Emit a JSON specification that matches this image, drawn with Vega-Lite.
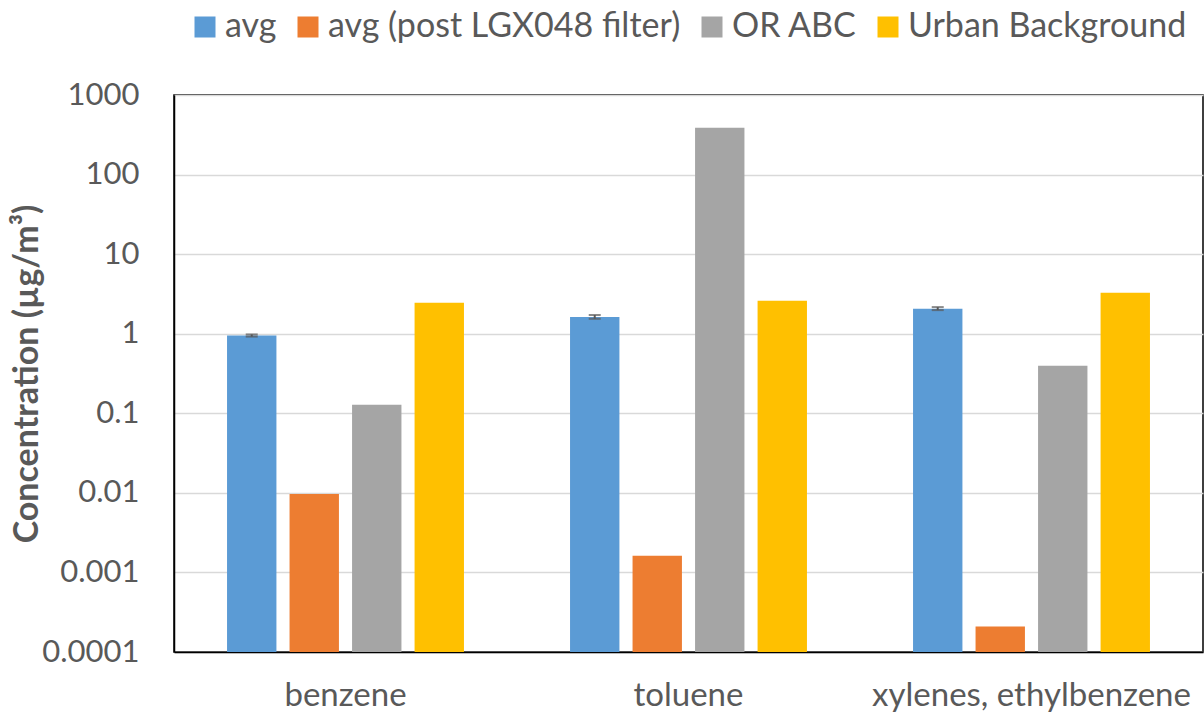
{
  "$schema": "https://vega.github.io/schema/vega-lite/v6.json",
  "width": 1029,
  "height": 557,
  "autosize": {"type": "none"},
  "padding": {"left": 174, "top": 95, "right": 1, "bottom": 69},
  "background": "white",
  "config": {
    "font": "Lato",
    "view": {"stroke": "black", "strokeWidth": 1.5},
    "axis": {"labelColor": "#595959", "titleColor": "#595959"}
  },
  "data": {
    "values": [
      {"compound": "benzene", "series": "avg", "value": 0.95, "lo": 0.92, "hi": 0.98},
      {"compound": "benzene", "series": "avg (post LGX048 filter)", "value": 0.0097},
      {"compound": "benzene", "series": "OR ABC", "value": 0.128},
      {"compound": "benzene", "series": "Urban Background", "value": 2.45},
      {"compound": "toluene", "series": "avg", "value": 1.62, "lo": 1.54, "hi": 1.72},
      {"compound": "toluene", "series": "avg (post LGX048 filter)", "value": 0.00162},
      {"compound": "toluene", "series": "OR ABC", "value": 387},
      {"compound": "toluene", "series": "Urban Background", "value": 2.6},
      {"compound": "xylenes, ethylbenzene", "series": "avg", "value": 2.06, "lo": 1.98, "hi": 2.16},
      {"compound": "xylenes, ethylbenzene", "series": "avg (post LGX048 filter)", "value": 0.000209},
      {"compound": "xylenes, ethylbenzene", "series": "OR ABC", "value": 0.396},
      {"compound": "xylenes, ethylbenzene", "series": "Urban Background", "value": 3.27}
    ]
  },
  "encoding": {
    "x": {
      "field": "compound", "type": "nominal", "sort": null,
      "scale": {"paddingInner": 0.271, "paddingOuter": 0.1355},
      "axis": {"title": null, "labelAngle": 0, "labelFontSize": 33, "labelLimit": 400, "ticks": false, "domainColor": "black", "domainWidth": 1.5, "labelPadding": 27}
    },
    "xOffset": {
      "field": "series", "type": "nominal",
      "sort": ["avg", "avg (post LGX048 filter)", "OR ABC", "Urban Background"],
      "scale": {"paddingInner": 0.21, "paddingOuter": 0.105}
    }
  },
  "layer": [
    {
      "mark": {"type": "bar"},
      "encoding": {
        "y": {
          "field": "value", "type": "quantitative",
          "scale": {"type": "log", "domain": [0.0001, 1000]},
          "axis": {
            "title": "Concentration (µg/m³)", "titleFontSize": 34, "titleFontWeight": "bold", "titlePadding": -3,
            "values": [0.0001, 0.001, 0.01, 0.1, 1, 10, 100, 1000],
            "format": "~g", "labelFontSize": 31, "ticks": false, "labelPadding": 35,
            "gridColor": "#d9d9d9", "gridWidth": 1.5, "domainColor": "black", "domainWidth": 1.5
          }
        },
        "y2": {"datum": 0.0001},
        "color": {
          "field": "series", "type": "nominal",
          "sort": ["avg", "avg (post LGX048 filter)", "OR ABC", "Urban Background"],
          "scale": {"range": ["#5b9bd5", "#ed7d31", "#a5a5a5", "#ffc000"]},
          "legend": {
            "title": null, "orient": "none", "direction": "horizontal",
            "legendX": 14, "legendY": -85,
            "symbolType": "square", "symbolSize": 441, "symbolStrokeWidth": 0,
            "labelFontSize": 34, "labelColor": "#595959", "labelOffset": 3, "labelLimit": 500,
            "columnPadding": 14
          }
        }
      }
    },
    {
      "transform": [{"filter": "isValid(datum.lo)"}],
      "mark": {"type": "rule", "color": "#595959", "strokeWidth": 2},
      "encoding": {
        "y": {"field": "lo", "type": "quantitative"},
        "y2": {"field": "hi"}
      }
    },
    {
      "transform": [{"filter": "isValid(datum.lo)"}],
      "mark": {"type": "tick", "color": "#595959", "thickness": 2, "size": 12, "orient": "horizontal"},
      "encoding": {"y": {"field": "lo", "type": "quantitative"}}
    },
    {
      "transform": [{"filter": "isValid(datum.hi)"}],
      "mark": {"type": "tick", "color": "#595959", "thickness": 2, "size": 12, "orient": "horizontal"},
      "encoding": {"y": {"field": "hi", "type": "quantitative"}}
    }
  ]
}
